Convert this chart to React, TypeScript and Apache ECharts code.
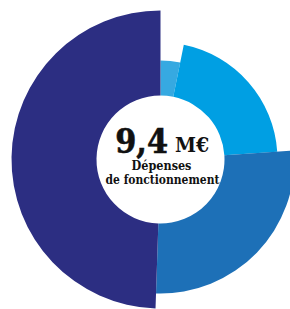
import React, { useEffect, useRef } from "react";
import * as echarts from "echarts";

const categories = ["Part 1", "Part 2", "Part 3", "Part 4"];
const values = [0.3, 1.95, 2.5, 4.65];
const totalLabel = "9,4";
const unitLabel = "M€";
const subtitleLines = ["Dépenses", "de fonctionnement"];

const colors = ["#36a9e1", "#009fe3", "#1d70b7", "#2c2e82"];
const outerRadii = [99, 117, 134, 149];
const innerRadius = 64;
const center = [160.5, 159.5];

export default function App() {
  const ref = useRef<HTMLDivElement>(null);
  useEffect(() => {
    if (!ref.current) return;
    const chart = echarts.init(ref.current, null, { renderer: "svg" });
    const family = '"DejaVu Serif", serif';
    const textStyle = (
      text: string,
      size: number,
      align: string,
      extra: Record<string, unknown> = {}
    ) => ({
      text,
      font: `bold ${size}px ${family}`,
      fontFamily: family,
      fontSize: size,
      fontWeight: "bold",
      lineHeight: Math.round(size * 0.8),
      fill: "#111111",
      textAlign: align,
      textVerticalAlign: "middle",
      ...extra,
    });
    chart.setOption({
      animation: false,
      backgroundColor: "#ffffff",
      textStyle: { fontFamily: family },
      series: values.map((_, i) => ({
        type: "pie",
        center,
        radius: [innerRadius, outerRadii[i]],
        startAngle: 90,
        clockwise: true,
        silent: true,
        z: 2 + i,
        label: { show: false },
        labelLine: { show: false },
        emphasis: { disabled: true },
        itemStyle: { borderWidth: 0 },
        data: values.map((v, j) => ({
          name: categories[j],
          value: v,
          itemStyle: { color: j === i ? colors[i] : "rgba(0,0,0,0)", borderWidth: 0 },
        })),
      })),
      graphic: [
        {
          type: "text",
          x: 168,
          y: 140.6,
          scaleX: 0.92,
          style: textStyle(totalLabel, 33, "right", { stroke: "#111111", lineWidth: 0.6 }),
          z: 100,
        },
        {
          type: "text",
          x: 175,
          y: 145.4,
          scaleX: 0.95,
          style: textStyle(unitLabel, 20, "left"),
          z: 100,
        },
        {
          type: "text",
          x: 161.5,
          y: 166,
          scaleX: 0.9,
          style: textStyle(subtitleLines[0], 12.5, "center"),
          z: 100,
        },
        {
          type: "text",
          x: 162.5,
          y: 179.5,
          scaleX: 0.86,
          style: textStyle(subtitleLines[1], 12.5, "center"),
          z: 100,
        },
      ],
    });
    return () => chart.dispose();
  }, []);
  return (
    <div
      ref={ref}
      style={{ position: "fixed", left: 0, top: 0, width: 290, height: 309 }}
    />
  );
}
